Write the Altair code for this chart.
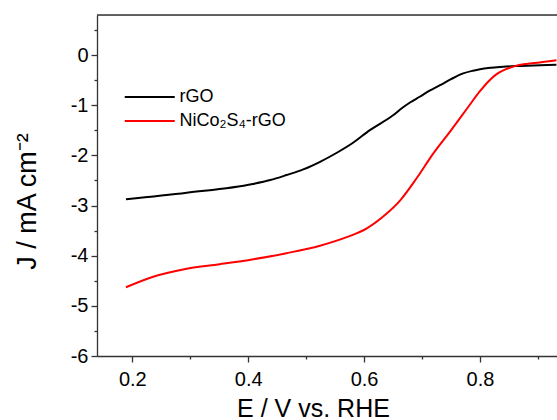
import altair as alt
import pandas as pd

# rGO curve (E in V vs RHE, J in mA cm^-2)
E_rgo = [0.189, 0.294, 0.408, 0.438, 0.466, 0.495, 0.524, 0.553, 0.581, 0.610,
         0.650, 0.665, 0.680, 0.696, 0.713, 0.731, 0.750, 0.771, 0.788, 0.800,
         0.820, 0.840, 0.870, 0.904, 0.932]
J_rgo = [-2.876, -2.745, -2.571, -2.492, -2.392, -2.279, -2.127, -1.947, -1.748, -1.495,
         -1.200, -1.060, -0.940, -0.830, -0.710, -0.600, -0.480, -0.365, -0.310, -0.280,
         -0.250, -0.230, -0.215, -0.200, -0.190]

# NiCo2S4-rGO curve
E_nico = [0.189, 0.236, 0.294, 0.351, 0.409, 0.466, 0.524, 0.570, 0.604, 0.639,
          0.662, 0.691, 0.719, 0.750, 0.780, 0.800, 0.815, 0.830, 0.845, 0.860,
          0.880, 0.903, 0.932]
J_nico = [-4.630, -4.420, -4.260, -4.170, -4.070, -3.950, -3.800, -3.630, -3.460, -3.160,
          -2.900, -2.450, -1.970, -1.500, -1.030, -0.720, -0.520, -0.370, -0.280, -0.220,
          -0.175, -0.145, -0.100]

labels = ["rGO", "NiCo\u2082S\u2084-rGO"]
colors = ["#000000", "#ff0000"]

x_major = [0.2, 0.4, 0.6, 0.8]
x_minor = [0.3, 0.5, 0.7, 0.9]
y_major = [-6, -5, -4, -3, -2, -1, 0]
y_minor = [-5.5, -4.5, -3.5, -2.5, -1.5, -0.5, 0.5]

df = pd.concat([
    pd.DataFrame({"E": E_rgo, "J": J_rgo, "sample": labels[0]}),
    pd.DataFrame({"E": E_nico, "J": J_nico, "sample": labels[1]}),
])

FONT = "Liberation Sans, Arial, sans-serif"
AX = "#333333"
W, H = 460, 341

xscale = alt.Scale(domain=[0.139, 0.933], nice=False, zero=False)
yscale = alt.Scale(domain=[-6, 0.8], nice=False, zero=False)

x_axis = alt.Axis(orient="bottom", values=x_major, format=".1f", tickSize=6, labelPadding=7,
                  labelFontSize=20, labelFont=FONT, labelColor="black",
                  title="E / V vs. RHE", titleFont=FONT, titleFontSize=25, titleFontWeight="normal",
                  titleColor="black", titleX=216, titleY=60, titleBaseline="alphabetic", titleAlign="center",
                  grid=False, domainColor=AX, tickColor=AX, domainWidth=1.3, tickWidth=1.3)
y_axis = alt.Axis(orient="left", values=y_major, tickSize=6, labelPadding=3,
                  labelExpr="datum.value < 0 ? '-' + abs(datum.value) : '' + datum.value",
                  labelFontSize=20, labelFont=FONT, labelColor="black",
                  title="J / mA cm\u207b\u00b2", titleFont=FONT, titleFontSize=27, titleFontWeight="normal",
                  titleColor="black", titleX=-70, titleY=186, titleBaseline="middle", titleAlign="center",
                  titleAngle=270,
                  grid=False, domainColor=AX, tickColor=AX, domainWidth=1.3, tickWidth=1.3)

x_axis_minor = alt.Axis(orient="bottom", values=x_minor, labels=False, tickSize=3, domain=False,
                        title=None, grid=False, tickColor=AX, tickWidth=1.3)
y_axis_minor = alt.Axis(orient="left", values=y_minor, labels=False, tickSize=3, domain=False,
                        title=None, grid=False, tickColor=AX, tickWidth=1.3)

lines = alt.Chart(df).mark_line(strokeWidth=2, clip=True, interpolate="monotone").encode(
    x=alt.X("E:Q", scale=xscale, axis=x_axis),
    y=alt.Y("J:Q", scale=yscale, axis=y_axis),
    color=alt.Color("sample:N", scale=alt.Scale(domain=labels, range=colors),
                    legend=alt.Legend(title=None, orient="none", legendX=18.75, legendY=73,
                                      symbolType="M0,0H8", symbolSize=156.25, symbolStrokeWidth=2,
                                      labelFontSize=18, labelFont=FONT, labelColor="black",
                                      labelOffset=45.75, rowPadding=6, padding=0)),
    order=alt.Order("E:Q"),
)

minor = alt.Chart(df).mark_point(opacity=0).encode(
    x=alt.X("E:Q", scale=xscale, axis=x_axis_minor),
    y=alt.Y("J:Q", scale=yscale, axis=y_axis_minor),
)

top = alt.Chart(pd.DataFrame({"k": [0]})).mark_rule(color=AX, strokeWidth=1.3).encode(
    x=alt.value(0), x2=alt.value(W), y=alt.value(0)
)

chart = alt.layer(lines, minor, top).resolve_axis(x="independent", y="independent").properties(
    width=W, height=H,
    autosize=alt.AutoSizeParams(type="none"),
    padding={"left": 97, "top": 15, "right": 0, "bottom": 64},
).configure_view(stroke=None).configure(background="white")

chart.save("out.html", embed_options={"renderer": "svg", "actions": False})
